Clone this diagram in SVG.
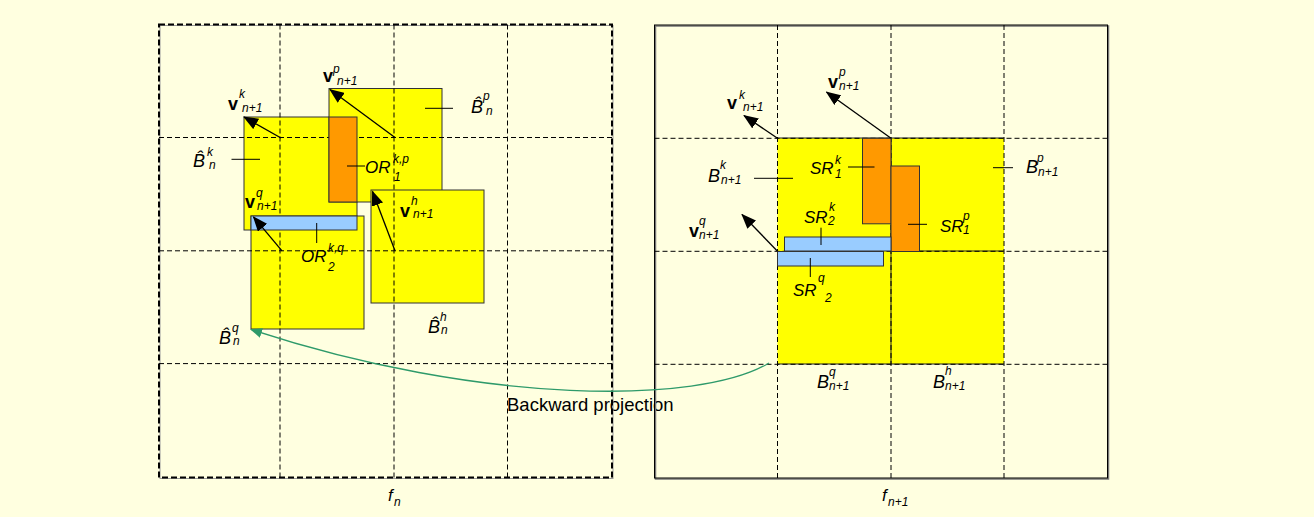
<svg xmlns="http://www.w3.org/2000/svg" width="1314" height="517" viewBox="0 0 1314 517">
<defs>
<style>
.grid{stroke:#000;stroke-width:1;stroke-dasharray:5 3;fill:none}
.yel{fill:#FFFF00;stroke:#333;stroke-width:1}
.org{fill:#FF9900;stroke:#333;stroke-width:1}
.blu{fill:#99CCFF;stroke:#333;stroke-width:1}
.sol{stroke:#222;stroke-width:1;fill:none}
.arr{stroke:#000;stroke-width:1.3;fill:none;marker-end:url(#ah)}
.ld{stroke:#000;stroke-width:1}
text{font-family:"Liberation Sans",Arial,sans-serif;fill:#000}
.m{font-size:18px;font-style:italic}
.v{font-size:18px;font-weight:bold}
.s{font-size:12px;font-style:italic;font-weight:normal}
.t{font-size:18.5px}
</style>
<marker id="ah" markerUnits="userSpaceOnUse" markerWidth="15" markerHeight="12" refX="14" refY="6" orient="auto">
<path d="M0,0 L15,6 L0,12 z" fill="#000"/>
</marker>
<marker id="gh" markerUnits="userSpaceOnUse" markerWidth="12" markerHeight="10" refX="11" refY="5" orient="auto">
<path d="M0,0 L12,5 L0,10 z" fill="#2E9A6A"/>
</marker>
</defs>
<rect x="0" y="0" width="1314" height="517" fill="#FFFFE0"/>

<text class="t" x="507" y="411">Backward projection</text>

<g id="frame-fn">
<rect x="160" y="25.5" width="453" height="453" fill="none" stroke="#999" stroke-width="1"/>
<rect x="159" y="24.5" width="453" height="453" fill="none" stroke="#000" stroke-width="2" stroke-dasharray="6 3"/>
<text class="m" x="388" y="501" style="font-size:17px">f<tspan class="s" x="394" y="506">n</tspan></text>
</g>
<g id="frame-fn1">
<rect x="655.5" y="26" width="453" height="453" fill="none" stroke="#777" stroke-width="1.5"/>
<rect x="654.5" y="25" width="453" height="453" fill="none" stroke="#000" stroke-width="1"/>
<text class="m" x="882" y="501" style="font-size:17px">f<tspan class="s" x="888" y="506">n+1</tspan></text>
</g>

<g id="Bk-n"><rect class="yel" x="244" y="117" width="113" height="113"/></g>
<g id="Bp-n"><rect class="yel" x="329" y="88.5" width="113" height="113.5"/></g>
<g id="Bq-n"><rect class="yel" x="251" y="216" width="113" height="113"/></g>
<g id="Bh-n"><rect class="yel" x="371" y="190" width="113" height="113"/></g>

<g id="Bk-Bp-n1">
<rect x="777.5" y="138" width="226.5" height="226" fill="#FFFF00"/>
<path class="sol" d="M777.5,138 H1004 M777.5,364 H1004 M891,138 V364 M891,251 H1004"/>
</g>

<g id="grid-fn">
<path class="grid" d="M280,24.5 V477.5 M394,24.5 V477.5 M507.5,24.5 V477.5 M159,137.5 H612 M159,250.8 H612 M159,363.6 H612"/>
</g>
<g id="grid-fn1">
<path class="grid" d="M777.5,25 V478 M891,25 V478 M1004,25 V478 M654.5,138.3 H1107.5 M654.5,251.3 H1107.5 M654.5,364.3 H1107.5"/>
</g>

<g id="OR1"><rect class="org" x="329" y="117" width="28" height="85"/></g>
<g id="OR2"><rect class="blu" x="251" y="216" width="106" height="14"/></g>
<g id="SR1k"><rect class="org" x="862.5" y="138.3" width="28.5" height="85.5"/></g>
<g id="SR1p"><rect class="org" x="891" y="166" width="28.5" height="85.5"/></g>
<g id="SR2k"><rect class="blu" x="784.5" y="237" width="106.5" height="14"/></g>
<g id="SR2q"><rect class="blu" x="777.5" y="251.5" width="106" height="14.5"/></g>

<g id="connectors">
<line class="arr" x1="281" y1="138" x2="244" y2="117"/>
<line class="arr" x1="395" y1="137.5" x2="330" y2="89.5"/>
<line class="arr" x1="282" y1="250.8" x2="253.5" y2="217"/>
<line class="arr" x1="395" y1="250.8" x2="372.5" y2="191.5"/>
<line class="arr" x1="777.5" y1="138.3" x2="744" y2="115.5"/>
<line class="arr" x1="891" y1="138.3" x2="826.5" y2="92"/>
<line class="arr" x1="777.5" y1="251.3" x2="742" y2="214.5"/>
<path d="M769,363 C700,405 480,405 251,329.5" fill="none" stroke="#2E9A6A" stroke-width="1.3" marker-end="url(#gh)"/>
<line class="ld" x1="425" y1="108.3" x2="453" y2="108.3"/>
<line class="ld" x1="231.5" y1="159.3" x2="260" y2="159.3"/>
<line class="ld" x1="347" y1="166" x2="365" y2="166"/>
<line class="ld" x1="316.7" y1="223" x2="316.7" y2="243"/>
<line class="ld" x1="754" y1="178.3" x2="793" y2="178.3"/>
<line class="ld" x1="848" y1="167" x2="874.5" y2="167"/>
<line class="ld" x1="993" y1="167.7" x2="1013" y2="167.7"/>
<line class="ld" x1="821" y1="227.7" x2="821" y2="245"/>
<line class="ld" x1="908" y1="224.3" x2="927" y2="224.3"/>
<line class="ld" x1="810.3" y1="258" x2="810.3" y2="277"/>
</g>

<g id="labels-fn">
<text class="v" x="323" y="82">v<tspan class="s" x="333" y="73">p</tspan><tspan class="s" x="337" y="85">n+1</tspan></text>
<text class="v" x="228" y="110">v<tspan class="s" x="239" y="98">k</tspan><tspan class="s" x="242" y="112">n+1</tspan></text>
<text class="m" x="471" y="113">B&#x302;<tspan class="s" x="483" y="100">p</tspan><tspan class="s" x="486" y="115">n</tspan></text>
<text class="m" x="193" y="167">B&#x302;<tspan class="s" x="207" y="156">k</tspan><tspan class="s" x="209" y="169">n</tspan></text>
<text class="m" x="365" y="173" style="font-size:17px">OR<tspan class="s" x="393" y="163">k,p</tspan><tspan class="s" x="394" y="181">1</tspan></text>
<text class="v" x="245" y="208">v<tspan class="s" x="256" y="197">q</tspan><tspan class="s" x="257" y="210">n+1</tspan></text>
<text class="v" x="400" y="217">v<tspan class="s" x="411" y="205">h</tspan><tspan class="s" x="413" y="218">n+1</tspan></text>
<text class="m" x="301" y="262" style="font-size:17px">OR<tspan class="s" x="328" y="252">k,q</tspan><tspan class="s" x="328" y="271">2</tspan></text>
<text class="m" x="428" y="333">B&#x302;<tspan class="s" x="440" y="321">h</tspan><tspan class="s" x="441" y="334">n</tspan></text>
<text class="m" x="219" y="344">B&#x302;<tspan class="s" x="232" y="332">q</tspan><tspan class="s" x="233" y="345">n</tspan></text>
</g>

<g id="labels-fn1">
<text class="v" x="727" y="109">v<tspan class="s" x="739" y="99">k</tspan><tspan class="s" x="743" y="111">n+1</tspan></text>
<text class="v" x="828" y="88">v<tspan class="s" x="839" y="76">p</tspan><tspan class="s" x="839" y="90">n+1</tspan></text>
<text class="m" x="708" y="182">B<tspan class="s" x="720" y="169">k</tspan><tspan class="s" x="721" y="184">n+1</tspan></text>
<text class="m" x="810" y="174" style="font-size:17px">SR<tspan class="s" x="835" y="164">k</tspan><tspan class="s" x="835" y="178">1</tspan></text>
<text class="m" x="1026" y="173">B<tspan class="s" x="1037" y="162">p</tspan><tspan class="s" x="1038" y="176">n+1</tspan></text>
<text class="m" x="804" y="223" style="font-size:17px">SR<tspan class="s" x="829" y="211">k</tspan><tspan class="s" x="828" y="225">2</tspan></text>
<text class="m" x="940" y="232" style="font-size:17px">SR<tspan class="s" x="963" y="220">p</tspan><tspan class="s" x="963" y="234">1</tspan></text>
<text class="m" x="793" y="296" style="font-size:17px">SR<tspan class="s" x="818" y="282">q</tspan><tspan class="s" x="825" y="302">2</tspan></text>
<text class="v" x="689" y="237">v<tspan class="s" x="699" y="225">q</tspan><tspan class="s" x="699" y="239">n+1</tspan></text>
<text class="m" x="817" y="388">B<tspan class="s" x="829" y="376">q</tspan><tspan class="s" x="829" y="390">n+1</tspan></text>
<text class="m" x="933" y="388">B<tspan class="s" x="945" y="375">h</tspan><tspan class="s" x="945" y="390">n+1</tspan></text>
</g>
</svg>
